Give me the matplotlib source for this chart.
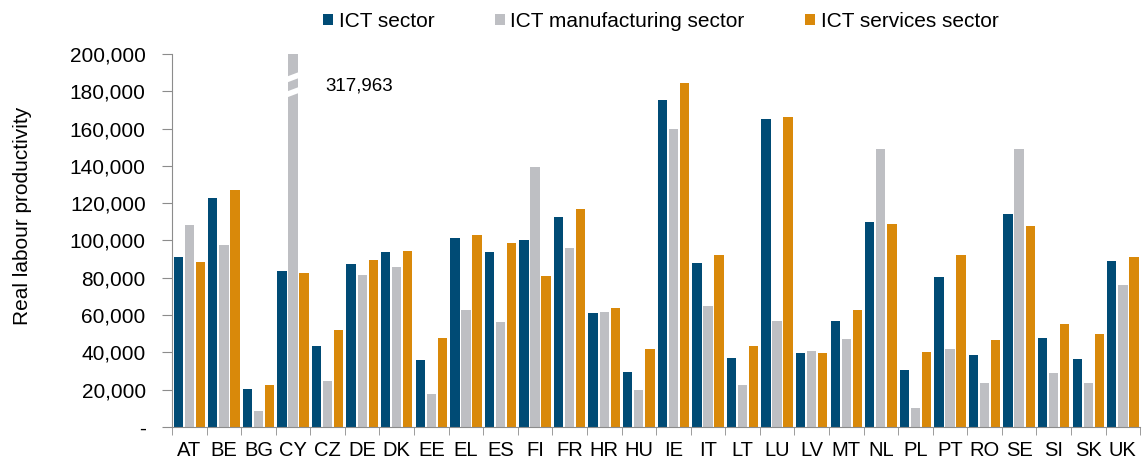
import matplotlib
matplotlib.use("Agg")
import matplotlib.pyplot as plt
import numpy as np
from matplotlib.ticker import FuncFormatter, FixedLocator
from matplotlib.patches import Polygon

plt.rcParams['font.family'] = ['Liberation Sans', 'DejaVu Sans']

countries = ["AT", "BE", "BG", "CY", "CZ", "DE", "DK", "EE", "EL", "ES", "FI", "FR", "HR", "HU",
             "IE", "IT", "LT", "LU", "LV", "MT", "NL", "PL", "PT", "RO", "SE", "SI", "SK", "UK"]
ict_sector = [91000, 123000, 20500, 83500, 43500, 87500, 94000, 36000, 101500, 94000, 100000, 112500,
              61000, 29500, 175500, 88000, 37000, 165000, 39500, 57000, 110000, 30500, 80500, 38500,
              114000, 47500, 36500, 89000]
ict_manufacturing = [108000, 97500, 8500, 317963, 24500, 81500, 85500, 17500, 62500, 56500, 139500, 96000,
                     61500, 20000, 160000, 65000, 22500, 57000, 40500, 47000, 149000, 10000, 41500, 23500,
                     149000, 29000, 23500, 76000]
ict_services = [88500, 127000, 22500, 82500, 52000, 89500, 94500, 47500, 103000, 98500, 81000, 117000,
                64000, 42000, 184500, 92000, 43500, 166000, 39500, 62500, 109000, 40000, 92000, 46500,
                107500, 55000, 50000, 91000]
series_names = ["ICT sector", "ICT manufacturing sector", "ICT services sector"]
yticks = [0, 20000, 40000, 60000, 80000, 100000, 120000, 140000, 160000, 180000, 200000]
outlier_label = "317,963"

colors = ["#004B75", "#BEBFC3", "#D9890A"]
axis_col = "#8C8C8C"

fig = plt.figure(figsize=(11.43, 4.61), dpi=100)
ax = fig.add_axes([0.1505, 0.074, 0.847, 0.809])

x = np.arange(len(countries))
w = 0.27
off = 0.32
series = [ict_sector, ict_manufacturing, ict_services]
bars = []
for i, (vals, c, name) in enumerate(zip(series, colors, series_names)):
    b = ax.bar(x + (i - 1) * off, vals, width=w, color=c, label=name, zorder=2)
    bars.append(b)

ax.set_xlim(-0.5, len(countries) - 0.5)
ax.set_ylim(0, 200000)

# break marks on CY manufacturing bar
ci = countries.index("CY")
bx0 = ci - w / 2 - 0.05
bx1 = ci + w / 2 + 0.05
for yc in (187500, 179500):
    h = 1600
    rise = 2600
    poly = Polygon([(bx0, yc - rise / 2 - h), (bx1, yc + rise / 2 - h),
                    (bx1, yc + rise / 2 + h), (bx0, yc - rise / 2 + h)],
                   closed=True, facecolor="white", edgecolor="none", zorder=3)
    ax.add_patch(poly)
ax.text(ci + 0.92, 183000, outlier_label, fontsize=13.5, va="center", ha="left")

ax.yaxis.set_major_locator(FixedLocator(yticks))
ax.yaxis.set_major_formatter(FuncFormatter(lambda v, p: "-" if v == 0 else f"{int(v):,}"))
ax.set_xticks(x)
ax.set_xticklabels(countries)
ax.set_xticks(np.arange(-0.5, len(countries), 1), minor=True)
ax.tick_params(axis="x", which="major", length=0, labelsize=14.5, pad=10)
ax.tick_params(axis="x", which="minor", length=6, color=axis_col, direction="out")
ax.tick_params(axis="y", length=7, color=axis_col, labelsize=15, direction="out", pad=12)

for s in ["top", "right"]:
    ax.spines[s].set_visible(False)
ax.spines["left"].set_color(axis_col)
ax.spines["bottom"].set_color(axis_col)

ax.set_ylabel("Real labour productivity", fontsize=15)
ax.yaxis.set_label_coords(-0.145, 0.565)

fig.legend(handles=bars, labels=series_names, loc="upper center", bbox_to_anchor=(0.578, 1.015),
           ncol=3, frameon=False, fontsize=15, handlelength=0.5, handleheight=0.5,
           handletextpad=0.25, columnspacing=2.9)

fig.savefig("out.png", dpi=100)
